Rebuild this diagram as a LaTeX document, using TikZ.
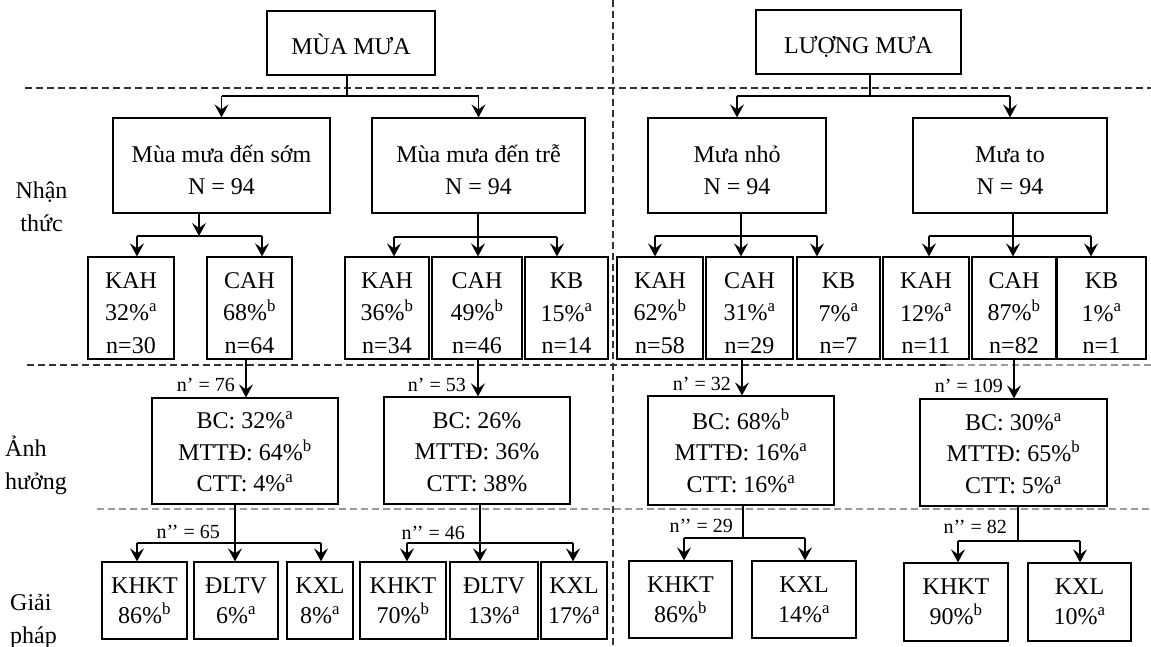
\documentclass[tikz,border=0pt]{standalone}
\usepackage{fontspec}
\setmainfont{Liberation Serif}
\usetikzlibrary{arrows.meta,calc}
\newcommand\ssa{\textsuperscript{a}}
\newcommand\ssb{\textsuperscript{b}}
\newcommand\mystrut[1]{\rule{0pt}{#1}}
\begin{document}
\begin{tikzpicture}[x=1pt,y=-1pt,
  box/.style={draw, line width=1.2pt, inner sep=0pt, align=center, font=\fontsize{24}{32}\selectfont},
  topbox/.style={box, text height=22pt, text depth=0pt},
  cell/.style={box, font=\fontsize{24}{32.5}\selectfont},
  effbox/.style={box, font=\fontsize{24}{31.5}\selectfont},
  solbox/.style={box, font=\fontsize{24}{30}\selectfont},
  ln/.style={line width=1.2pt},
  arr/.style={line width=1.2pt, -{Stealth[length=13pt,width=14pt,inset=5pt]}},
  lab/.style={inner sep=0pt, font=\fontsize{20}{24}\selectfont, anchor=east},
  side/.style={inner sep=0pt, font=\fontsize{24}{33}\selectfont},
  dl/.style={line width=1.2pt, dash pattern=on 7pt off 4pt, black!80},
  dlg/.style={line width=1.2pt, dash pattern=on 7pt off 4pt, black!40}]
\useasboundingbox (0,0) rectangle (1151,646);

% dashed separators
\draw[dl] (25,88) -- (1151,88);
\draw[dl] (613,0) -- (613,646);
\draw[dl] (27,365) -- (946,365);
\draw[dlg] (946,365) -- (1151,365);
\draw[dlg] (97,509) -- (1151,509);

% side labels
\node[side, align=center] (l1) at (41.5,207) {Nhận\\thức};
\node[side, align=left, anchor=west] (l2) at (5,465) {Ảnh\\hưởng};
\node[side, align=left, anchor=west] (l3) at (10,621) {Giải\\pháp};

% top boxes
\node[topbox, minimum width=168pt, minimum height=64pt] (t1) at (351,43) {MÙA MƯA};
\node[topbox, minimum width=205pt, minimum height=64pt] (t2) at (858.5,42) {LƯỢNG MƯA};

% row 2
\node[box, minimum width=217pt, minimum height=95pt] (a) at (221.5,165.5) {\mystrut{27pt}Mùa mưa đến sớm\\N = 94};
\node[box, minimum width=213pt, minimum height=95pt] (b) at (478.5,165.5) {\mystrut{27pt}Mùa mưa đến trễ\\N = 94};
\node[box, minimum width=178pt, minimum height=95pt] (c) at (737,165.5) {\mystrut{27pt}Mưa nhỏ\\N = 94};
\node[box, minimum width=194pt, minimum height=95pt] (d) at (1010,165.5) {\mystrut{27pt}Mưa to\\N = 94};

% row 3
\node[cell, minimum width=86pt, minimum height=102pt] (a1) at (131,308) {\mystrut{26pt}KAH\\32\%\ssa\\n=30};
\node[cell, minimum width=85pt, minimum height=102pt] (a2) at (249.5,308) {\mystrut{26pt}CAH\\68\%\ssb\\n=64};
\node[cell, minimum width=84pt, minimum height=102pt] (b1) at (387,308) {\mystrut{26pt}KAH\\36\%\ssb\\n=34};
\node[cell, minimum width=90pt, minimum height=102pt] (b2) at (477,308) {\mystrut{26pt}CAH\\49\%\ssb\\n=46};
\node[cell, minimum width=83pt, minimum height=102pt] (b3) at (566.5,308) {\mystrut{26pt}KB\\15\%\ssa\\n=14};
\node[cell, minimum width=86pt, minimum height=102pt] (c1) at (660,308) {\mystrut{26pt}KAH\\62\%\ssb\\n=58};
\node[cell, minimum width=87pt, minimum height=102pt] (c2) at (749.5,308) {\mystrut{26pt}CAH\\31\%\ssa\\n=29};
\node[cell, minimum width=83pt, minimum height=102pt] (c3) at (838.5,308) {\mystrut{26pt}KB\\7\%\ssa\\n=7\hspace{20pt}};
\node[cell, minimum width=86pt, minimum height=102pt] (d1) at (926,308) {\mystrut{26pt}KAH\\12\%\ssa\\n=11};
\node[cell, minimum width=84pt, minimum height=102pt] (d2) at (1014,308) {\mystrut{26pt}CAH\\87\%\ssb\\n=82};
\node[cell, minimum width=89pt, minimum height=102pt] (d3) at (1101.5,308) {\mystrut{26pt}KB\\1\%\ssa\\n=1};

% row 4
\node[effbox, minimum width=186pt, minimum height=106pt] (e) at (245,451) {\mystrut{19pt}BC: 32\%\ssa\\MTTĐ: 64\%\ssb\\CTT: 4\%\ssa};
\node[effbox, minimum width=186pt, minimum height=107pt] (f) at (477,450.5) {\mystrut{19pt}BC: 26\%\\MTTĐ: 36\%\\CTT: 38\%};
\node[effbox, minimum width=186pt, minimum height=109pt] (g) at (741,450.5) {\mystrut{19pt}BC: 68\%\ssb\\MTTĐ: 16\%\ssa\\CTT: 16\%\ssa};
\node[effbox, minimum width=187pt, minimum height=107pt] (h) at (1013.5,452.5) {\mystrut{19pt}BC: 30\%\ssa\\MTTĐ: 65\%\ssb\\CTT: 5\%\ssa};

% row 5
\node[solbox, minimum width=85pt, minimum height=77pt] (e1) at (144.5,600.5) {KHKT\\86\%\ssb};
\node[solbox, minimum width=84pt, minimum height=77pt] (e2) at (236,600.5) {ĐLTV\\6\%\ssa};
\node[solbox, minimum width=66pt, minimum height=77pt] (e3) at (320,600.5) {KXL\\8\%\ssa};
\node[solbox, minimum width=86pt, minimum height=77pt] (f1) at (403,600.5) {KHKT\\70\%\ssb};
\node[solbox, minimum width=88pt, minimum height=77pt] (f2) at (494,600.5) {ĐLTV\\13\%\ssa};
\node[solbox, minimum width=66pt, minimum height=77pt] (f3) at (574,600.5) {KXL\\17\%\ssa};
\node[solbox, minimum width=103pt, minimum height=77pt] (g1) at (680.5,599.5) {KHKT\\86\%\ssb};
\node[solbox, minimum width=104pt, minimum height=77pt] (g2) at (804,599.5) {KXL\\14\%\ssa};
\node[solbox, minimum width=104pt, minimum height=78pt] (h1) at (956,602) {KHKT\\90\%\ssb};
\node[solbox, minimum width=103pt, minimum height=78pt] (h2) at (1079.5,602) {KXL\\10\%\ssa};

% top connectors
\coordinate (t1b) at (347,96);
\draw[ln] (t1.south -| t1b) -- (t1b);
\draw[ln] (a.north |- t1b) -- (b.north |- t1b);
\draw[arr] (a.north |- t1b) -- (a.north);
\draw[arr] (b.north |- t1b) -- (b.north);
\coordinate (t2b) at (870,96);
\draw[ln] (t2.south -| t2b) -- (t2b);
\draw[ln] (c.north |- t2b) -- (d.north |- t2b);
\draw[arr] (c.north |- t2b) -- (c.north);
\draw[arr] (d.north |- t2b) -- (d.north);

% row 2 -> row 3
\coordinate (ab) at (199,236);
\coordinate (abl) at (137,236);
\coordinate (abr) at (262,236);
\draw[arr] (a.south -| ab) -- (ab);
\draw[ln] (abl) -- (abr);
\draw[arr] (abl) -- (abl |- a1.north);
\draw[arr] (abr) -- (abr |- a2.north);

\coordinate (bb) at (478,237);
\coordinate (bbl) at (394,237);
\coordinate (bbr) at (557,237);
\draw[ln] (b.south -| bb) -- (bb);
\draw[ln] (bbl) -- (bbr);
\draw[arr] (bbl) -- (bbl |- b1.north);
\draw[arr] (bb) -- (bb |- b2.north);
\draw[arr] (bbr) -- (bbr |- b3.north);

\coordinate (cb) at (741,236);
\coordinate (cbl) at (655,236);
\coordinate (cbr) at (817,236);
\draw[ln] (c.south -| cb) -- (cb);
\draw[ln] (cbl) -- (cbr);
\draw[arr] (cbl) -- (cbl |- c1.north);
\draw[arr] (cb) -- (cb |- c2.north);
\draw[arr] (cbr) -- (cbr |- c3.north);

\coordinate (db) at (1013,236);
\coordinate (dbl) at (929,236);
\coordinate (dbr) at (1091,236);
\draw[ln] (d.south -| db) -- (db);
\draw[ln] (dbl) -- (dbr);
\draw[arr] (dbl) -- (dbl |- d1.north);
\draw[arr] (db) -- (db |- d2.north);
\draw[arr] (dbr) -- (dbr |- d3.north);

% row 3 -> row 4
\coordinate (xe) at (246,0);
\coordinate (xf) at (478,0);
\coordinate (xg) at (742,0);
\coordinate (xh) at (1014,0);
\draw[arr] (a2.south -| xe) -- (e.north -| xe);
\draw[arr] (b2.south -| xf) -- (f.north -| xf);
\draw[arr] (c2.south -| xg) -- (g.north -| xg);
\draw[arr] (d2.south -| xh) -- (h.north -| xh);
\node[lab] (ne) at (235,385) {n’ = 76};
\node[lab] (nf) at (466,385) {n’ = 53};
\node[lab] (ng) at (731,384) {n’ = 32};
\node[lab] (nh) at (1003,386) {n’ = 109};

% row 4 -> row 5
\coordinate (eb) at (235,543);
\coordinate (ebl) at (137,543);
\coordinate (ebr) at (321,543);
\draw[ln] (e.south -| eb) -- (eb);
\draw[ln] (ebl) -- (ebr);
\draw[arr] (ebl) -- (ebl |- e1.north);
\draw[arr] (eb) -- (eb |- e2.north);
\draw[arr] (ebr) -- (ebr |- e3.north);

\coordinate (fb) at (480,543);
\coordinate (fbl) at (407,543);
\coordinate (fbr) at (573,543);
\draw[ln] (f.south -| fb) -- (fb);
\draw[ln] (fbl) -- (fbr);
\draw[arr] (fbl) -- (fbl |- f1.north);
\draw[arr] (fb) -- (fb |- f2.north);
\draw[arr] (fbr) -- (fbr |- f3.north);

\coordinate (gb) at (743,538);
\coordinate (gbl) at (684,538);
\coordinate (gbr) at (805,538);
\draw[ln] (g.south -| gb) -- (gb);
\draw[ln] (gbl) -- (gbr);
\draw[arr] (gbl) -- (gbl |- g1.north);
\draw[arr] (gbr) -- (gbr |- g2.north);

\coordinate (hb) at (1018,541);
\coordinate (hbl) at (958,541);
\coordinate (hbr) at (1080,541);
\draw[ln] (h.south -| hb) -- (hb);
\draw[ln] (hbl) -- (hbr);
\draw[arr] (hbl) -- (hbl |- h1.north);
\draw[arr] (hbr) -- (hbr |- h2.north);

\node[lab] (me) at (220,532) {n’’ = 65};
\node[lab] (mf) at (465,533) {n’’ = 46};
\node[lab] (mg) at (733,526) {n’’ = 29};
\node[lab] (mh) at (1007,527) {n’’ = 82};
\end{tikzpicture}
\end{document}
